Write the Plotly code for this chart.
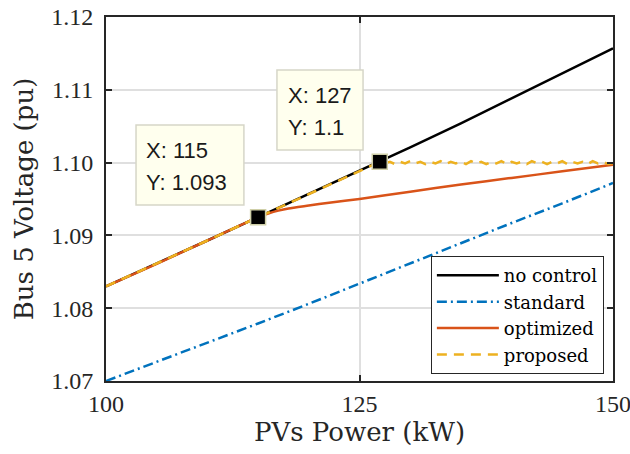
import plotly.graph_objects as go

# ---- data ----
pv_power = [100, 105, 110, 115, 120, 125, 127, 130, 135, 140, 145, 150]
v_no_control = [1.0830, 1.0861, 1.0893, 1.0925, 1.0957, 1.0988, 1.1001, 1.1021, 1.1054, 1.1088, 1.1122, 1.1157]

std_power = [100, 105, 110, 115, 120, 125, 130, 135, 140, 145, 150]
v_standard = [1.0700, 1.0726, 1.0752, 1.0779, 1.0806, 1.0834, 1.0861, 1.0889, 1.0917, 1.0944, 1.0972]

opt_power = [100, 105, 110, 115, 116, 117, 118, 120, 122, 125, 130, 135, 140, 145, 150]
v_optimized = [1.0830, 1.0861, 1.0893, 1.0925, 1.0930, 1.0934, 1.0937, 1.0941, 1.0945, 1.0950, 1.0960, 1.0970, 1.0979, 1.0988, 1.0997]

prop_power = [100, 105, 110, 115, 120, 125, 127, 127.5, 128, 128.5, 129, 129.5, 130, 130.5, 131, 131.5,
              132, 132.5, 133, 133.5, 134, 134.5, 135, 135.5, 136, 136.5, 137, 137.5, 138, 138.5, 139,
              139.5, 140, 140.5, 141, 141.5, 142, 142.5, 143, 143.5, 144, 144.5, 145, 145.5, 146, 146.5,
              147, 147.5, 148, 148.5, 149, 149.5, 150]
v_proposed = [1.0830, 1.0861, 1.0893, 1.0925, 1.0957, 1.0988, 1.1001, 1.0999, 1.1001, 1.0998, 1.1001,
              1.0999, 1.1002, 1.0999, 1.1001, 1.0998, 1.1001, 1.0999, 1.1002, 1.0998, 1.1001, 1.0999,
              1.1001, 1.0998, 1.1002, 1.0999, 1.1001, 1.0998, 1.1001, 1.0999, 1.1002, 1.0998, 1.1001,
              1.0999, 1.1001, 1.0998, 1.1002, 1.0999, 1.1001, 1.0998, 1.1001, 1.0999, 1.1002, 1.0998,
              1.1001, 1.0999, 1.1001, 1.0998, 1.1002, 1.0999, 1.1001, 1.0998, 1.0999]

tip_x = [115, 127]
tip_y = [1.0925, 1.1001]
tip_labels = [["X: 115", "Y: 1.093"], ["X: 127", "Y: 1.1"]]

x_ticks = [100, 125, 150]
x_tick_text = ["100", "125", "150"]
y_ticks = [1.07, 1.08, 1.09, 1.10, 1.11, 1.12]
y_tick_text = ["1.07", "1.08", "1.09", "1.10", "1.11", "1.12"]

AX = "#262626"
SERIF_T = "'Liberation Serif', 'Times New Roman', serif"
SERIF = "'DejaVu Serif', 'Liberation Serif', serif"

fig = go.Figure()
fig.add_trace(go.Scatter(x=pv_power, y=v_no_control, mode="lines", name="no control",
                         line=dict(color="black", width=2.5)))
fig.add_trace(go.Scatter(x=std_power, y=v_standard, mode="lines", name="standard",
                         line=dict(color="#0072BD", width=2.5, dash="10px,4px,2px,4px")))
fig.add_trace(go.Scatter(x=opt_power, y=v_optimized, mode="lines", name="optimized",
                         line=dict(color="#D95319", width=2.5, shape="spline", smoothing=0.6)))
fig.add_trace(go.Scatter(x=prop_power, y=v_proposed, mode="lines", name="proposed",
                         line=dict(color="#EDB120", width=2.5, dash="10px,7px")))
fig.add_trace(go.Scatter(x=tip_x, y=tip_y, mode="markers", showlegend=False, hoverinfo="skip",
                         marker=dict(symbol="square", size=15, color="black",
                                     line=dict(color="#CFCFA8", width=1.5))))

# datatip boxes (data coords)
boxes = [(102.96, 113.6, 1.09418, 1.10516), (116.86, 125.35, 1.10173, 1.11272)]
text_pos = [[(103.7, 1.10173), (103.7, 1.09720)], [(117.75, 1.10915), (117.75, 1.10489)]]
shapes = []
annotations = []
for (x0, x1, y0, y1), lines, pos in zip(boxes, tip_labels, text_pos):
    shapes.append(dict(type="rect", xref="x", yref="y", x0=x0, x1=x1, y0=y0, y1=y1,
                       fillcolor="#FFFFEE", line=dict(color="#D6D6C8", width=1.5), layer="above"))
    for t, (tx, ty) in zip(lines, pos):
        annotations.append(dict(xref="x", yref="y", x=tx, y=ty, text=t, showarrow=False,
                                xanchor="left", yanchor="middle",
                                font=dict(family="'Liberation Sans', Arial, sans-serif", size=22, color="#1a1a1a")))

fig.update_layout(
    width=630, height=454,
    margin=dict(l=106, r=17, t=17, b=73, autoexpand=False),
    plot_bgcolor="white", paper_bgcolor="white",
    shapes=shapes, annotations=annotations,
    legend=dict(x=0.982, y=0.019, xanchor="right", yanchor="bottom",
                bgcolor="white", bordercolor=AX, borderwidth=1,
                font=dict(family=SERIF, size=18, color="black"),
                itemwidth=62, tracegroupgap=0),
    xaxis=dict(range=[99.999, 150.001], tickmode="array", tickvals=x_ticks, ticktext=x_tick_text,
               ticks="inside", ticklen=6, tickwidth=1.5, ticklabeloverflow="allow", automargin=False,
               tickcolor=AX, showline=True, linecolor=AX, linewidth=2, mirror="ticks",
               showgrid=True, gridcolor="#DFDFDF", gridwidth=1.5, zeroline=False,
               tickfont=dict(family=SERIF_T, size=24, color=AX),
               title=dict(text="PVs Power (kW)", font=dict(family=SERIF, size=26, color=AX), standoff=4)),
    yaxis=dict(range=[1.07, 1.12], tickmode="array", tickvals=y_ticks, ticktext=y_tick_text,
               ticks="inside", ticklen=6, ticklabeloverflow="allow", automargin=False,
               tickwidth=1.5, tickcolor=AX, showline=True, linecolor=AX, linewidth=2, mirror="ticks",
               showgrid=True, gridcolor="#DFDFDF", gridwidth=1.5, zeroline=False,
               tickfont=dict(family=SERIF_T, size=24, color=AX), ticklabelstandoff=6,
               title=dict(text="Bus 5 Voltage (pu)", font=dict(family=SERIF, size=26, color=AX), standoff=10)),
)

fig.write_html("out.html")
